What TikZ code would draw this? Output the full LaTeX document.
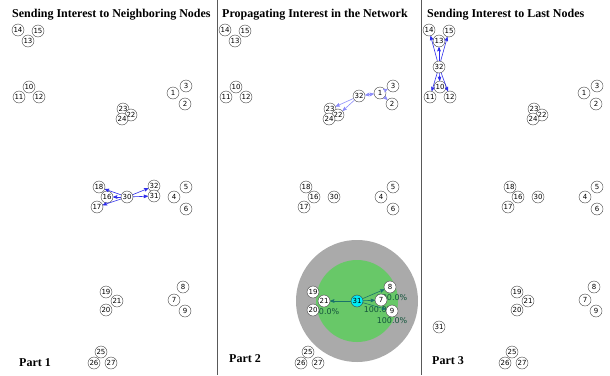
\documentclass[tikz,border=0pt]{standalone}
\usepackage{fontspec}
\setmainfont{Liberation Serif}
\newfontfamily\numfont{DejaVu Sans}
\usepackage{tikz}
\usetikzlibrary{arrows,backgrounds}
\definecolor{sendblue}{RGB}{45,45,235}
\definecolor{propblue}{RGB}{140,140,250}
\definecolor{rangegray}{RGB}{170,170,170}
\definecolor{rangegreen}{RGB}{104,200,104}
\definecolor{hitteal}{RGB}{25,115,105}
\definecolor{pcttext}{RGB}{20,85,60}
\definecolor{sinkcyan}{RGB}{0,235,245}

% sensor field shared by all three parts (31 and 32 move)
\newcommand{\fieldnodes}{%
  \node[sensor] (s14) at (18,30)  {14};
  \node[sensor] (s15) at (38,31)  {15};
  \node[sensor] (s13) at (28,41)  {13};
  \node[sensor] (s10) at (29,87)  {10};
  \node[sensor] (s11) at (19,97)  {11};
  \node[sensor] (s12) at (39,97)  {12};
  \node[sensor] (s1)  at (173,93) {1};
  \node[sensor] (s3)  at (186,86) {3};
  \node[sensor] (s2)  at (185,104) {2};
  \node[sensor] (s23) at (123,109) {23};
  \node[sensor] (s22) at (131,115) {22};
  \node[sensor] (s24) at (122,119) {24};
  \node[sensor] (s18) at (99,187)  {18};
  \node[sensor] (s16) at (107,197) {16};
  \node[sensor] (s30) at (127,197) {30};
  \node[sensor] (s17) at (97,207)  {17};
  \node[sensor] (s5)  at (186,187) {5};
  \node[sensor] (s4)  at (174,197) {4};
  \node[sensor] (s6)  at (186,209) {6};
  \node[sensor] (s19) at (106,292) {19};
  \node[sensor] (s21) at (117,301) {21};
  \node[sensor] (s20) at (106,310) {20};
  \node[sensor] (s8)  at (183,287) {8};
  \node[sensor] (s7)  at (174,300) {7};
  \node[sensor] (s9)  at (185,311) {9};
  \node[sensor] (s25) at (101,352) {25};
  \node[sensor] (s26) at (94,363)  {26};
  \node[sensor] (s27) at (111,363) {27};
}

\begin{document}
\begin{tikzpicture}[->,>=stealth',x=1pt,y=-1pt,thin]
  \tikzstyle{sensor}=[circle,draw=black!75,fill=white,inner sep=0pt,minimum size=12pt,
                      font=\numfont\fontsize{7}{7}\selectfont]
  \tikzstyle{title}=[anchor=base west,inner sep=0pt,font=\fontsize{12}{12}\selectfont\bfseries]
  \tikzstyle{send}=[draw=sendblue,line width=0.6pt]
  \tikzstyle{prop}=[draw=propblue,line width=0.6pt]
  \tikzstyle{hit}=[draw=hitteal,line width=0.6pt]
  \tikzstyle{pct}=[anchor=north,inner sep=0pt,text=pcttext,font=\numfont\fontsize{8}{8}\selectfont]

  \useasboundingbox (0,0) rectangle (610,375);

  \node[title] (t1) at (12,17)  {Sending Interest to Neighboring Nodes};
  \node[title] (t2) at (222,17) {Propagating Interest in the Network};
  \node[title] (t3) at (427,17) {Sending Interest to Last Nodes};
  \node[title] (p1) at (19,366)  {Part 1};
  \node[title] (p2) at (229,362) {Part 2};
  \node[title] (p3) at (432,364) {Part 3};

  \draw[-,black!65,line width=1pt] (217,0) -- (217,375);
  \draw[-,black!65,line width=1pt] (421,0) -- (421,375);

  % Part 1
  \begin{scope}[name prefix=a-]
    \fieldnodes
    \node[sensor] (s32) at (154,186) {32};
    \node[sensor] (s31) at (154,196) {31};
    \path (s30) edge[send] (s18)
                edge[send] (s16)
                edge[send] (s17)
                edge[send] (s32)
                edge[send] (s31);
  \end{scope}

  % Part 2
  \begin{scope}[shift={(207,0)},name prefix=b-]
    \fieldnodes
    \node[sensor] (s32) at (152,96) {32};
    \node[sensor,fill=sinkcyan] (s31) at (150,301) {31};
    \begin{scope}[on background layer]
      \fill[-,rangegray] (s31) circle (61);
      \fill[-,rangegreen] (s31) circle (41);
      \node[pct] at ([yshift=-1pt]s21.south) {100.0\%};
      \node[pct] at ([xshift=2pt,yshift=-1pt]s8.south) {100.0\%};
      \node[pct] at ([xshift=-2pt]s7.south) {100.0\%};
      \node[pct] at (s9.south) {100.0\%};
    \end{scope}
    \path (s32) edge[prop,<->] (s1)
          (s1)  edge[prop] (s3)
                edge[prop] (s2)
          (s32) edge[prop] (s23)
                edge[prop] (s22);
    \path (s31) edge[hit] (s21)
                edge[hit] (s8)
                edge[hit] (s7)
                edge[hit] (s9);
  \end{scope}

  % Part 3
  \begin{scope}[shift={(411,0)},name prefix=c-]
    \fieldnodes
    \node[sensor] (s32) at (28,67)  {32};
    \node[sensor] (s31) at (28,327) {31};
    \path (s32) edge[send] (s13)
                edge[send] (s14)
                edge[send] (s15)
                edge[send] (s10)
                edge[send] (s11)
                edge[send] (s12);
  \end{scope}
\end{tikzpicture}
\end{document}
